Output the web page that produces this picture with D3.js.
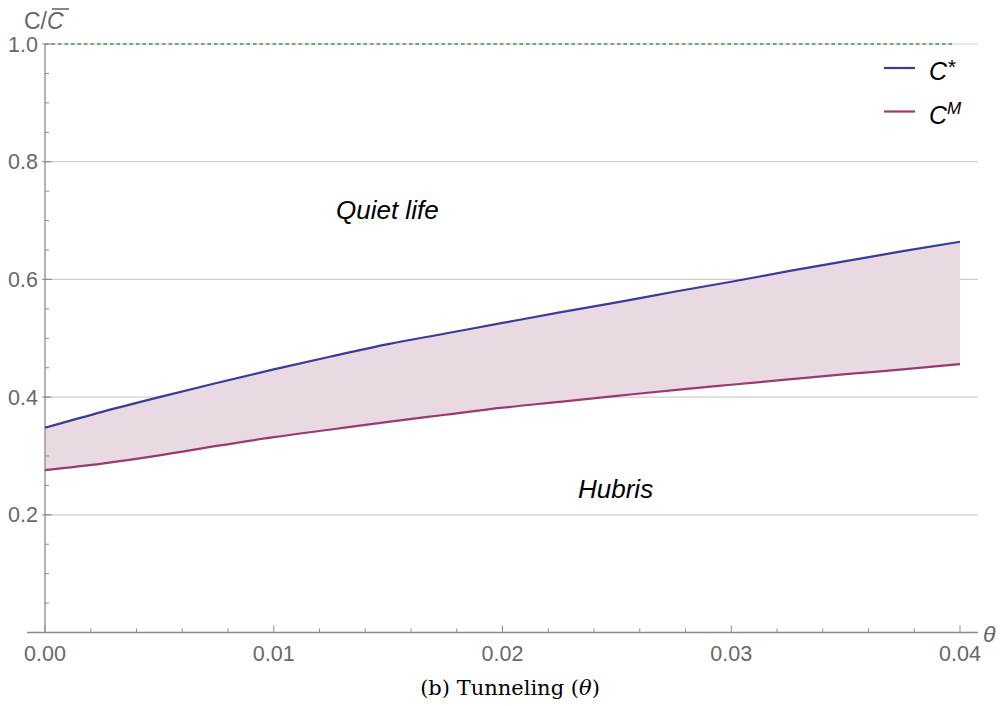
<!DOCTYPE html>
<html><head><meta charset="utf-8">
<script src="https://cdn.jsdelivr.net/npm/d3@7"></script>
<style>
html,body{margin:0;padding:0;background:#fff;}
svg{display:block;}
</style></head>
<body>
<svg id="chart" width="1008" height="706"></svg>
<script>
// ---- data ----
const theta = [0, 0.0025, 0.005, 0.0075, 0.01, 0.0125, 0.015, 0.0175, 0.02, 0.0225, 0.025, 0.0275, 0.03, 0.0325, 0.035, 0.0375, 0.04];
const cStar = [0.348, 0.375, 0.400, 0.424, 0.447, 0.469, 0.490, 0.508, 0.526, 0.544, 0.561, 0.579, 0.596, 0.614, 0.631, 0.648, 0.664];
const cM    = [0.276, 0.287, 0.301, 0.317, 0.332, 0.345, 0.358, 0.370, 0.382, 0.392, 0.402, 0.412, 0.421, 0.430, 0.439, 0.447, 0.456];
const xTicks = [0, 0.01, 0.02, 0.03, 0.04];
const xTickLabels = ["0.00", "0.01", "0.02", "0.03", "0.04"];
const yTicks = [0.2, 0.4, 0.6, 0.8, 1.0];
const yTickLabels = ["0.2", "0.4", "0.6", "0.8", "1.0"];
const refLevel = 1.0;
const seriesNames = ["C*", "CM"];

const svg = d3.select("#chart");
const x = d3.scaleLinear().domain([0, 0.04]).range([45, 960]);
const y = d3.scaleLinear().domain([0, 1]).range([632.5, 44]);
const axisGray = "#8c8c8c";
const textGray = "#686868";
const blue = "#3b3b9c";
const mag = "#9c3872";
const sans = "Liberation Sans, Arial, sans-serif";

// grid lines
svg.append("g").selectAll("line").data(yTicks).join("line")
  .attr("x1", 45).attr("x2", 978)
  .attr("y1", d => y(d)).attr("y2", d => y(d))
  .attr("stroke", "#cfcfcf").attr("stroke-width", 1.2);

// fill between
const data = theta.map((t, i) => ({t, a: cStar[i], b: cM[i]}));
svg.append("path").datum(data)
  .attr("d", d3.area().x(d => x(d.t)).y0(d => y(d.b)).y1(d => y(d.a)).curve(d3.curveMonotoneX))
  .attr("fill", "#e9d9e3");

// reference dashed line
svg.append("line")
  .attr("x1", x(0)).attr("x2", 955).attr("y1", y(refLevel)).attr("y2", y(refLevel))
  .attr("stroke", "#3e9c5c").attr("stroke-width", 1.4).attr("stroke-dasharray", "3.5,3");

// x axis
const gx = svg.append("g").attr("transform", "translate(0,632.5)");
gx.append("line").attr("x1", 27).attr("x2", 978).attr("y1", 0).attr("y2", 0)
  .attr("stroke", axisGray).attr("stroke-width", 1.3);
gx.selectAll("line.minor").data(d3.range(0, 41, 2).map(v => v / 1000)).join("line").attr("class", "minor")
  .attr("x1", d => x(d)).attr("x2", d => x(d))
  .attr("y1", 0).attr("y2", (d, i) => (i % 5 === 0 ? -7 : -4))
  .attr("stroke", axisGray).attr("stroke-width", 1);
gx.selectAll("text").data(xTicks).join("text")
  .attr("x", d => x(d)).attr("y", 28)
  .attr("text-anchor", "middle")
  .attr("font-family", sans).attr("font-size", 21.5)
  .attr("fill", textGray)
  .text((d, i) => xTickLabels[i]);

// y axis
const gy = svg.append("g").attr("transform", "translate(45,0)");
gy.append("line").attr("x1", 0).attr("x2", 0).attr("y1", y(1.0)).attr("y2", 633)
  .attr("stroke", axisGray).attr("stroke-width", 1.3);
gy.selectAll("line.minor").data(d3.range(5, 100, 5).map(v => v / 100)).join("line").attr("class", "minor")
  .attr("x1", 0).attr("x2", 4)
  .attr("y1", d => y(d)).attr("y2", d => y(d))
  .attr("stroke", axisGray).attr("stroke-width", 1);
gy.selectAll("line.major").data(yTicks).join("line").attr("class", "major")
  .attr("x1", -3).attr("x2", 7)
  .attr("y1", d => y(d)).attr("y2", d => y(d))
  .attr("stroke", axisGray).attr("stroke-width", 1);
gy.selectAll("text").data(yTicks).join("text")
  .attr("x", -7).attr("y", d => y(d) + 7.5)
  .attr("text-anchor", "end")
  .attr("font-family", sans).attr("font-size", 21.5)
  .attr("fill", textGray)
  .text((d, i) => yTickLabels[i]);

// y label C/C̄
const yl = svg.append("text").attr("x", 24).attr("y", 29)
  .attr("font-family", sans).attr("font-size", 23).attr("fill", textGray);
yl.append("tspan").text("C/");
yl.append("tspan").attr("font-style", "italic").text("C");
svg.append("line").attr("x1", 52).attr("x2", 69).attr("y1", 9).attr("y2", 9)
  .attr("stroke", textGray).attr("stroke-width", 1.6);

// x label θ
svg.append("text").attr("x", 983).attr("y", 642)
  .attr("font-family", sans).attr("font-size", 23)
  .attr("font-style", "italic").attr("fill", textGray).text("θ");

// lines
const line = vals => d3.line().x((d, i) => x(theta[i])).y(d => y(d)).curve(d3.curveMonotoneX)(vals);
svg.append("path").attr("d", line(cM)).attr("fill", "none").attr("stroke", mag).attr("stroke-width", 2.2);
svg.append("path").attr("d", line(cStar)).attr("fill", "none").attr("stroke", blue).attr("stroke-width", 2.2);

// annotations
svg.append("text").attr("x", 336).attr("y", 219)
  .attr("font-family", sans).attr("font-size", 26)
  .attr("font-style", "italic").attr("fill", "#000").text("Quiet life");
svg.append("text").attr("x", 578).attr("y", 498)
  .attr("font-family", sans).attr("font-size", 26)
  .attr("font-style", "italic").attr("fill", "#000").text("Hubris");

// legend
const legend = [{c: blue, sup: "*", y: 68}, {c: mag, sup: "M", y: 111.5}];
const lg = svg.append("g");
lg.selectAll("line").data(legend).join("line")
  .attr("x1", 884).attr("x2", 915).attr("y1", d => d.y).attr("y2", d => d.y)
  .attr("stroke", d => d.c).attr("stroke-width", 2.2);
legend.forEach((d, i) => {
  const t = lg.append("text").attr("x", 929).attr("y", d.y + 12)
    .attr("font-family", sans).attr("font-size", 25)
    .attr("font-style", "italic").attr("fill", "#000");
  t.append("tspan").text("C");
  t.append("tspan").attr("font-size", d.sup === "*" ? 21 : 17).attr("dy", d.sup === "*" ? -6 : -10).text(d.sup);
});

// caption
svg.append("text").attr("x", 510).attr("y", 695).attr("text-anchor", "middle")
  .attr("font-family", "DejaVu Serif, Liberation Serif, serif").attr("font-size", 21)
  .attr("fill", "#000")
  .html("(b) Tunneling (<tspan font-style='italic'>θ</tspan>)");
</script>
</body></html>
